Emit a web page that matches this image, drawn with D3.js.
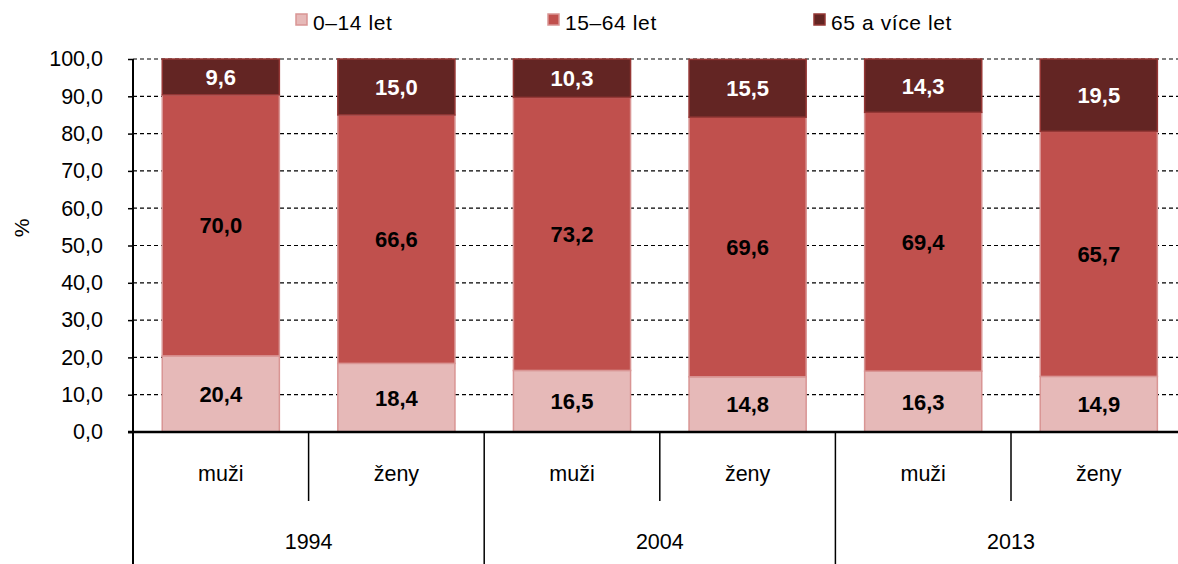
<!DOCTYPE html>
<html lang="cs">
<head>
<meta charset="UTF-8" />
<title>Věková struktura</title>
<style>
  body { margin: 0; background: #fff; }
  svg { display: block; font-family: "Liberation Sans", Arial, sans-serif; }
  .grid line { stroke: #000; stroke-dasharray: 4,3; stroke-width: 1.2; }
</style>
</head>
<body>
<script src="https://cdn.jsdelivr.net/npm/d3@7/dist/d3.min.js"></script>
<script>
  // data
  var years = ["1994", "2004", "2013"];
  var sexes = ["muži", "ženy"];
  var groups = ["0–14 let", "15–64 let", "65 a více let"];
  var young = [20.4, 18.4, 16.5, 14.8, 16.3, 14.9];
  var working = [70.0, 66.6, 73.2, 69.6, 69.4, 65.7];
  var old = [9.6, 15.0, 10.3, 15.5, 14.3, 19.5];
  var yTicks = [0, 10, 20, 30, 40, 50, 60, 70, 80, 90, 100];

  var fills = ["#E6B9B8", "#C0504D", "#632523"];
  var strokes = ["#D99594", "#D99594", "#953735"];
  var textColors = ["#000", "#000", "#fff"];

  var w = 1178, h = 564;
  var plotLeft = 133, plotTop = 59, plotBottom = 432;
  var step = 175.6;

  var cats = [];
  years.forEach(function(y) {
    sexes.forEach(function(s) { cats.push(y + "|" + s); });
  });

  var rows = cats.map(function(c, i) {
    return { key: c, year: c.split("|")[0], sex: c.split("|")[1], v: [young[i], working[i], old[i]] };
  });

  var svg = d3.select("body").append("svg")
    .attr("width", w)
    .attr("height", h);

  var xScale = d3.scaleBand()
    .domain(cats)
    .range([plotLeft, plotLeft + step * cats.length])
    .padding(0);

  var yScale = d3.scaleLinear()
    .domain([0, 100])
    .range([plotBottom, plotTop]);

  var barW = xScale.bandwidth() * 0.667;

  // gridlines
  svg.append("g").attr("class", "grid")
    .selectAll("line")
    .data(yTicks.filter(function(d) { return d > 0; }))
    .enter().append("line")
    .attr("x1", plotLeft)
    .attr("x2", w)
    .attr("y1", function(d) { return yScale(d); })
    .attr("y2", function(d) { return yScale(d); });

  // y axis
  var yAxis = d3.axisLeft(yScale)
    .tickValues(yTicks)
    .tickSize(5)
    .tickFormat(function(d) { return d3.format(".1f")(d).replace(".", ","); });

  var ya = svg.append("g")
    .attr("transform", "translate(" + plotLeft + ",0)")
    .call(yAxis);
  ya.select(".domain").remove();
  ya.selectAll(".tick line").attr("stroke", "#000").attr("stroke-width", 1.5);
  ya.selectAll(".tick text")
    .attr("x", -30)
    .attr("fill", "#000")
    .style("font-size", "21.5px")
    .style("font-family", "'Liberation Sans', Arial, sans-serif");

  svg.append("text")
    .attr("transform", "translate(29,228) rotate(-90)")
    .attr("text-anchor", "middle")
    .style("font-size", "21px")
    .text("%");

  // stacked bars
  var stack = d3.stack()
    .keys([0, 1, 2])
    .value(function(d, k) { return d.v[k]; });
  var series = stack(rows);

  series.forEach(function(s, k) {
    var g = svg.append("g");
    g.selectAll("rect")
      .data(s)
      .enter().append("rect")
      .attr("x", function(d) { return xScale(d.data.key) + (xScale.bandwidth() - barW) / 2; })
      .attr("y", function(d) { return yScale(Math.min(d[1], 100)); })
      .attr("width", barW)
      .attr("height", function(d) { return yScale(d[0]) - yScale(Math.min(d[1], 100)); })
      .attr("fill", fills[k])
      .attr("stroke", strokes[k])
      .attr("stroke-width", 1.5);

    g.selectAll("text")
      .data(s)
      .enter().append("text")
      .attr("x", function(d) { return xScale(d.data.key) + xScale.bandwidth() / 2; })
      .attr("y", function(d) { return yScale((d[0] + d[1]) / 2); })
      .attr("dy", "0.36em")
      .attr("text-anchor", "middle")
      .attr("fill", textColors[k])
      .style("font-size", "22px")
      .style("font-weight", "bold")
      .text(function(d) { return d3.format(".1f")(d.data.v[k]).replace(".", ","); });
  });

  // axes lines
  svg.append("line")
    .attr("x1", plotLeft).attr("x2", plotLeft)
    .attr("y1", plotTop).attr("y2", h)
    .attr("stroke", "#000").attr("stroke-width", 2);

  svg.append("line")
    .attr("x1", plotLeft - 5).attr("x2", w)
    .attr("y1", plotBottom).attr("y2", plotBottom)
    .attr("stroke", "#000").attr("stroke-width", 2.5);

  // category dividers
  cats.forEach(function(c, i) {
    if (i === 0) return;
    var x = xScale(c);
    var isYear = i % sexes.length === 0;
    svg.append("line")
      .attr("x1", x).attr("x2", x)
      .attr("y1", plotBottom).attr("y2", isYear ? h : 501)
      .attr("stroke", "#000").attr("stroke-width", 1.5);
  });

  // sex labels
  svg.selectAll(".sexlab")
    .data(rows)
    .enter().append("text")
    .attr("x", function(d) { return xScale(d.key) + xScale.bandwidth() / 2; })
    .attr("y", 473)
    .attr("dy", "0.36em")
    .attr("text-anchor", "middle")
    .style("font-size", "21.5px")
    .text(function(d) { return d.sex; });

  // year labels
  svg.selectAll(".yearlab")
    .data(years)
    .enter().append("text")
    .attr("x", function(y) { return xScale(y + "|" + sexes[0]) + xScale.bandwidth(); })
    .attr("y", 541)
    .attr("dy", "0.36em")
    .attr("text-anchor", "middle")
    .style("font-size", "21.5px")
    .text(function(y) { return y; });

  // legend
  var legendX = [296, 548, 814];
  groups.forEach(function(g, k) {
    svg.append("rect")
      .attr("x", legendX[k]).attr("y", 14)
      .attr("width", 11).attr("height", 11)
      .attr("fill", fills[k])
      .attr("stroke", strokes[k])
      .attr("stroke-width", 1.5);
    svg.append("text")
      .attr("x", legendX[k] + 17)
      .attr("y", 22)
      .attr("dy", "0.36em")
      .style("font-size", "21px")
      .style("letter-spacing", "0.6px")
      .text(g);
  });
</script>
</body>
</html>
